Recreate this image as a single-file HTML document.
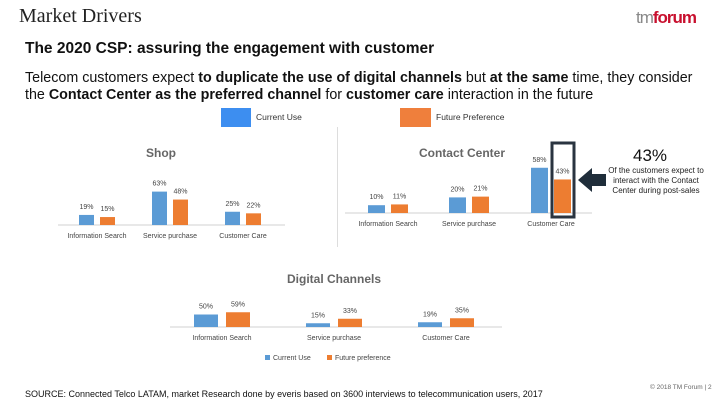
<!DOCTYPE html>
<html><head><meta charset="utf-8">
<style>
body{margin:0;width:720px;height:405px;overflow:hidden;background:#fff;font-family:"Liberation Sans",sans-serif;position:relative}
.a{position:absolute;white-space:nowrap}
</style></head><body>
<div class="a" style="left:19px;top:5px;font-family:'Liberation Serif',serif;font-size:20px;color:#222">Market Drivers</div>
<div class="a" style="left:636px;top:8px;font-size:17px;letter-spacing:-1px;color:#888">tm<b style="color:#c8102e">forum</b></div>
<div class="a" style="left:25px;top:40px;font-size:15.5px;font-weight:bold;color:#111">The 2020 CSP: assuring the engagement with customer</div>
<div class="a" style="left:25px;top:70px;font-size:14.3px;line-height:17px;color:#111">Telecom customers expect <b>to duplicate the use of digital channels</b> but <b>at the same</b> time, they consider<br>the <b>Contact Center as the preferred channel</b> for <b>customer care</b> interaction in the future</div>
<div class="a" style="left:221px;top:108px;width:30px;height:19px;background:#3d8ef0"></div>
<div class="a" style="left:256px;top:112px;font-size:8.5px;color:#333">Current Use</div>
<div class="a" style="left:400px;top:108px;width:31px;height:19px;background:#ef7f3c"></div>
<div class="a" style="left:436px;top:112px;font-size:8.5px;color:#333">Future Preference</div>
<div class="a" style="left:337px;top:127px;width:1px;height:120px;background:#ddd"></div>
<div class="a" style="left:633px;top:146px;font-size:17px;color:#111">43%</div>
<div class="a" style="left:607px;top:166px;width:98px;text-align:center;font-size:8px;line-height:10px;color:#222;white-space:normal">Of the customers expect to interact with the Contact Center during post-sales</div>
<div class="a" style="left:25px;top:389px;font-size:9px;color:#111">SOURCE: Connected Telco LATAM, market Research done by everis based on 3600 interviews to telecommunication users, 2017</div>
<div class="a" style="left:650px;top:384px;font-size:6.5px;color:#666">© 2018 TM Forum | 2</div>
<svg id="c" width="720" height="405" style="position:absolute;left:0;top:0"></svg>
<script>
const categories=["Information Search","Service purchase","Customer Care"];
const shopCurrent=[19,63,25];
const shopFuture=[15,48,22];
const ccCurrent=[10,20,58];
const ccFuture=[11,21,43];
const dcCurrent=[50,15,19];
const dcFuture=[59,33,35];
const NS="http://www.w3.org/2000/svg";
const svg=document.getElementById('c');
function mk(t,a){const e=document.createElementNS(NS,t);for(const k in a)e.setAttribute(k,a[k]);svg.appendChild(e);return e;}
function chart(name,cur,fut,o){
  const y=v=>o.base-v*o.scale;
  const ax=mk('line',{x1:o.x0,x2:o.x1,y1:o.base,y2:o.base,stroke:'#d0d0d0'});
  
  
  const t=mk('text',{x:o.tx,y:o.ty,'font-size':o.tf,fill:'#666','font-weight':'bold','text-anchor':'middle'});t.textContent=o.title;
  
  
  categories.forEach((c,i)=>{
    const cx=o.c[i];
    [[cur[i],cx-o.bw-o.g/2,'#5b9bd5','current'],[fut[i],cx+o.g/2,'#ed7d31','future']].forEach(([v,x,col,s])=>{
      const r=mk('rect',{x:x,y:y(v),width:o.bw,height:v*o.scale,fill:col});
      
      
      const l=mk('text',{x:x+o.bw/2,y:y(v)-6,'font-size':7,fill:'#444','text-anchor':'middle'});l.textContent=v+'%';
      
      
    });
    const cl=mk('text',{x:cx,y:o.base+13,'font-size':7,fill:'#444','text-anchor':'middle'});cl.textContent=c;
    
    
  });
}
chart('shop',shopCurrent,shopFuture,{base:225,scale:0.53,x0:58,x1:285,c:[97,170,243],bw:15,g:6,title:'Shop',tx:161,ty:157,tf:12});
chart('contact-center',ccCurrent,ccFuture,{base:213,scale:0.78,x0:345,x1:592,c:[388,469,551],bw:17,g:6,title:'Contact Center',tx:462,ty:157,tf:12});
chart('digital-channels',dcCurrent,dcFuture,{base:327,scale:0.25,x0:170,x1:502,c:[222,334,446],bw:24,g:8,title:'Digital Channels',tx:334,ty:283,tf:12});
const hb=mk('rect',{x:552,y:143,width:22,height:74,fill:'none',stroke:'#2a3440','stroke-width':3});


const ar=mk('polygon',{points:'578,180 592,168 592,174 606,174 606,186 592,186 592,192',fill:'#1f2d3a'});


[[265,'#5b9bd5','Current Use'],[327,'#ed7d31','Future preference']].forEach(([x,col,lab])=>{
  const r=mk('rect',{x:x,y:355,width:5,height:5,fill:col});
  
  
  const t=mk('text',{x:x+8,y:360,'font-size':7,fill:'#444'});t.textContent=lab;
  
  
});
</script>
</body></html>
